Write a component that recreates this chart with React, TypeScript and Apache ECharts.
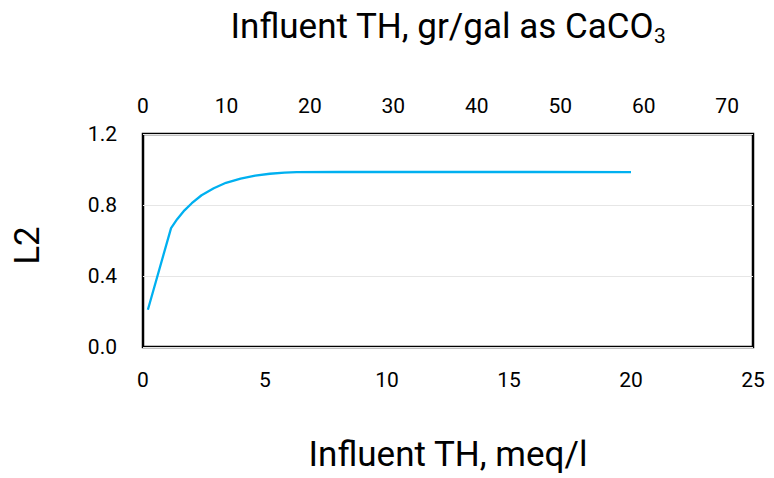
import React, { useEffect, useRef } from "react";
import * as echarts from "echarts";

const meqValues = [0.2, 1.15, 1.4, 1.7, 2.0, 2.4, 2.9, 3.4, 4.0, 4.6, 5.2, 5.8, 6.3, 8, 12, 16, 20];
const l2Values = [0.21, 0.67, 0.72, 0.77, 0.81, 0.855, 0.894, 0.925, 0.949, 0.965, 0.976, 0.982, 0.985, 0.986, 0.986, 0.986, 0.985];
const GR_PER_MEQ = 2.924;
const bottomMax = 25;
const yTicks = [0, 0.4, 0.8, 1.2];

export default function App() {
  const ref = useRef<HTMLDivElement>(null);
  useEffect(() => {
    const chart = echarts.init(ref.current!, null, { renderer: "svg" });
    const font = "Roboto";
    chart.setOption({
      animation: false,
      grid: {
        left: 143, right: 21, top: 134, bottom: 131, show: true, borderColor: "#000", borderWidth: 2.5,
        containLabel: false, outerBoundsMode: "none",
      },
      xAxis: [
        {
          type: "value", min: 0, max: bottomMax, interval: 5, position: "bottom",
          axisLine: { show: false }, axisTick: { show: false }, splitLine: { show: false },
          axisLabel: { fontFamily: font, fontSize: 21, color: "#000", margin: 22 },
          name: "Influent TH, meq/l", nameLocation: "middle", nameGap: 90,
          nameTextStyle: { fontFamily: font, fontSize: 35, color: "#000" },
        },
        {
          type: "value", min: 0, max: bottomMax * GR_PER_MEQ, interval: 10, position: "top",
          axisLine: { show: false }, axisTick: { show: false }, splitLine: { show: false },
          axisLabel: { fontFamily: font, fontSize: 21, color: "#000", margin: 18, showMaxLabel: false },
          name: "Influent TH, gr/gal as CaCO{sub|3}", nameLocation: "middle", nameGap: 88,
          nameTextStyle: {
            fontFamily: font, fontSize: 35, color: "#000", lineHeight: 40,
            rich: { sub: { fontFamily: font, fontSize: 21, color: "#000", lineHeight: 40, verticalAlign: "bottom", padding: [38, 0, 0, 0] } },
          },
        },
      ],
      yAxis: {
        type: "value", min: yTicks[0], max: yTicks[yTicks.length - 1], interval: 0.4,
        axisLine: { show: false }, axisTick: { show: false },
        splitLine: { show: true, lineStyle: { color: "#e6e6e6", width: 1 } },
        axisLabel: { fontFamily: font, fontSize: 21, color: "#000", margin: 26, formatter: (v: number) => v.toFixed(1) },
        name: "L2", nameLocation: "middle", nameGap: 98, nameRotate: 90,
        nameTextStyle: { fontFamily: font, fontSize: 35, color: "#000", padding: [0, 10, 0, 0] },
      },
      series: [
        {
          type: "line", xAxisIndex: 0, showSymbol: false, smooth: false,
          data: meqValues.map((x, i) => [x, l2Values[i]]),
          lineStyle: { color: "#00b0f0", width: 2.3 },
        },
      ],
    });
    return () => chart.dispose();
  }, []);
  return <div ref={ref} style={{ width: 774, height: 478, position: "absolute", left: 0, top: 0 }} />;
}
